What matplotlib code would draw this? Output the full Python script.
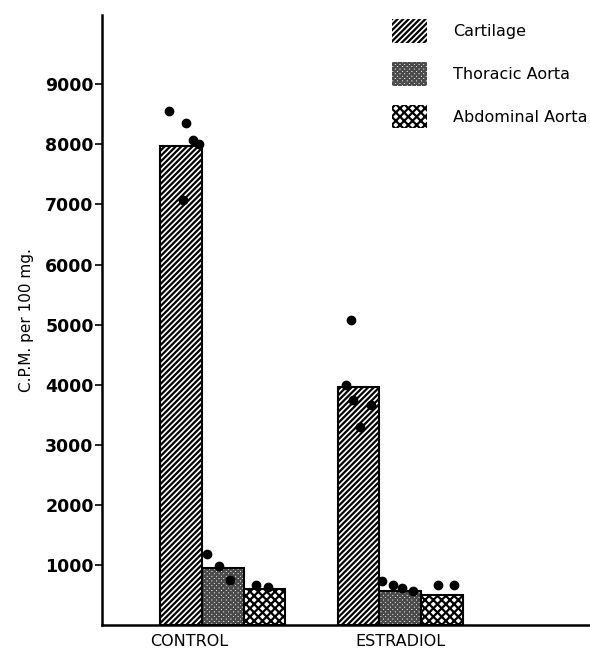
import numpy as np
import matplotlib.pyplot as plt
from matplotlib.patches import Patch

plt.rcParams['font.family'] = ['DejaVu Sans']
plt.rcParams['hatch.linewidth'] = 1.6

groups = ['CONTROL', 'ESTRADIOL']
tissues = ['Cartilage', 'Thoracic Aorta', 'Abdominal Aorta']
means = {
    'Cartilage': [7980, 3970],
    'Thoracic Aorta': [950, 570],
    'Abdominal Aorta': [600, 500],
}
# individual animals
pts_control = {
    'Cartilage': [8550, 8350, 8070, 8000, 7080],
    'Thoracic Aorta': [1180, 980, 750],
    'Abdominal Aorta': [670, 630],
}
pts_estradiol = {
    'Cartilage': [4000, 5070, 3750, 3300, 3670],
    'Thoracic Aorta': [730, 670, 620, 570],
    'Abdominal Aorta': [670, 670],
}
# x jitter of the dots inside each bar (layout only)
jit_control = {
    'Cartilage': [-0.07, 0.03, 0.07, 0.10, 0.01],
    'Thoracic Aorta': [-0.09, -0.02, 0.04],
    'Abdominal Aorta': [-0.05, 0.02],
}
jit_estradiol = {
    'Cartilage': [-0.07, -0.04, -0.03, 0.01, 0.07],
    'Thoracic Aorta': [-0.10, -0.04, 0.01, 0.07],
    'Abdominal Aorta': [-0.02, 0.07],
}

hatches = ['//////', 'xxxxxxx', 'xxxx']
hcols = ['black', '#4a4a4a', 'black']
offsets = [-0.235, 0.0, 0.235]
w = 0.235
x = np.arange(len(groups))

fig = plt.figure(figsize=(5.9, 6.56), dpi=100)
ax = fig.add_axes([0.173, 0.047, 0.83, 0.93])

for i, t in enumerate(tissues):
    ax.bar(x + offsets[i], means[t], width=w, color='white', edgecolor=hcols[i],
           hatch=hatches[i], linewidth=0)
    ax.bar(x + offsets[i], means[t], width=w, fill=False, edgecolor='black',
           linewidth=1.5)
    for g, pts, jit in [(0, pts_control, jit_control), (1, pts_estradiol, jit_estradiol)]:
        xs = g + offsets[i] + np.array(jit[t])
        ax.plot(xs, pts[t], 'o', color='black', ms=6, zorder=5)

ax.set_xlim(-0.68, 2.08)
ax.set_ylim(0, 10150)
ax.set_yticks(range(1000, 10000, 1000))
ax.set_yticklabels([str(v) for v in range(1000, 10000, 1000)],
                   fontsize=12.5, fontweight='bold')
ax.set_xticks([-0.19, 1.0])
ax.set_xticklabels(groups, fontsize=11.5)
ax.tick_params(axis='x', length=0, pad=6)
ax.tick_params(axis='y', length=5, width=1.2, direction='out', pad=1)
ax.spines['top'].set_visible(False)
ax.spines['right'].set_visible(False)
ax.spines['left'].set_linewidth(1.8)
ax.spines['bottom'].set_linewidth(1.8)
ax.set_ylabel('C.P.M. per 100 mg.', fontsize=11, labelpad=8)

handles = [Patch(facecolor='white', edgecolor=c, hatch=h, linewidth=0)
           for h, c in zip(hatches, hcols)]
ax.legend(handles, tissues, loc='upper right', bbox_to_anchor=(1.02, 1.017),
          frameon=False, fontsize=11.5, handlelength=2.2, handleheight=1.9,
          labelspacing=1.2, handletextpad=1.6)

fig.savefig('out.png', dpi=100)
